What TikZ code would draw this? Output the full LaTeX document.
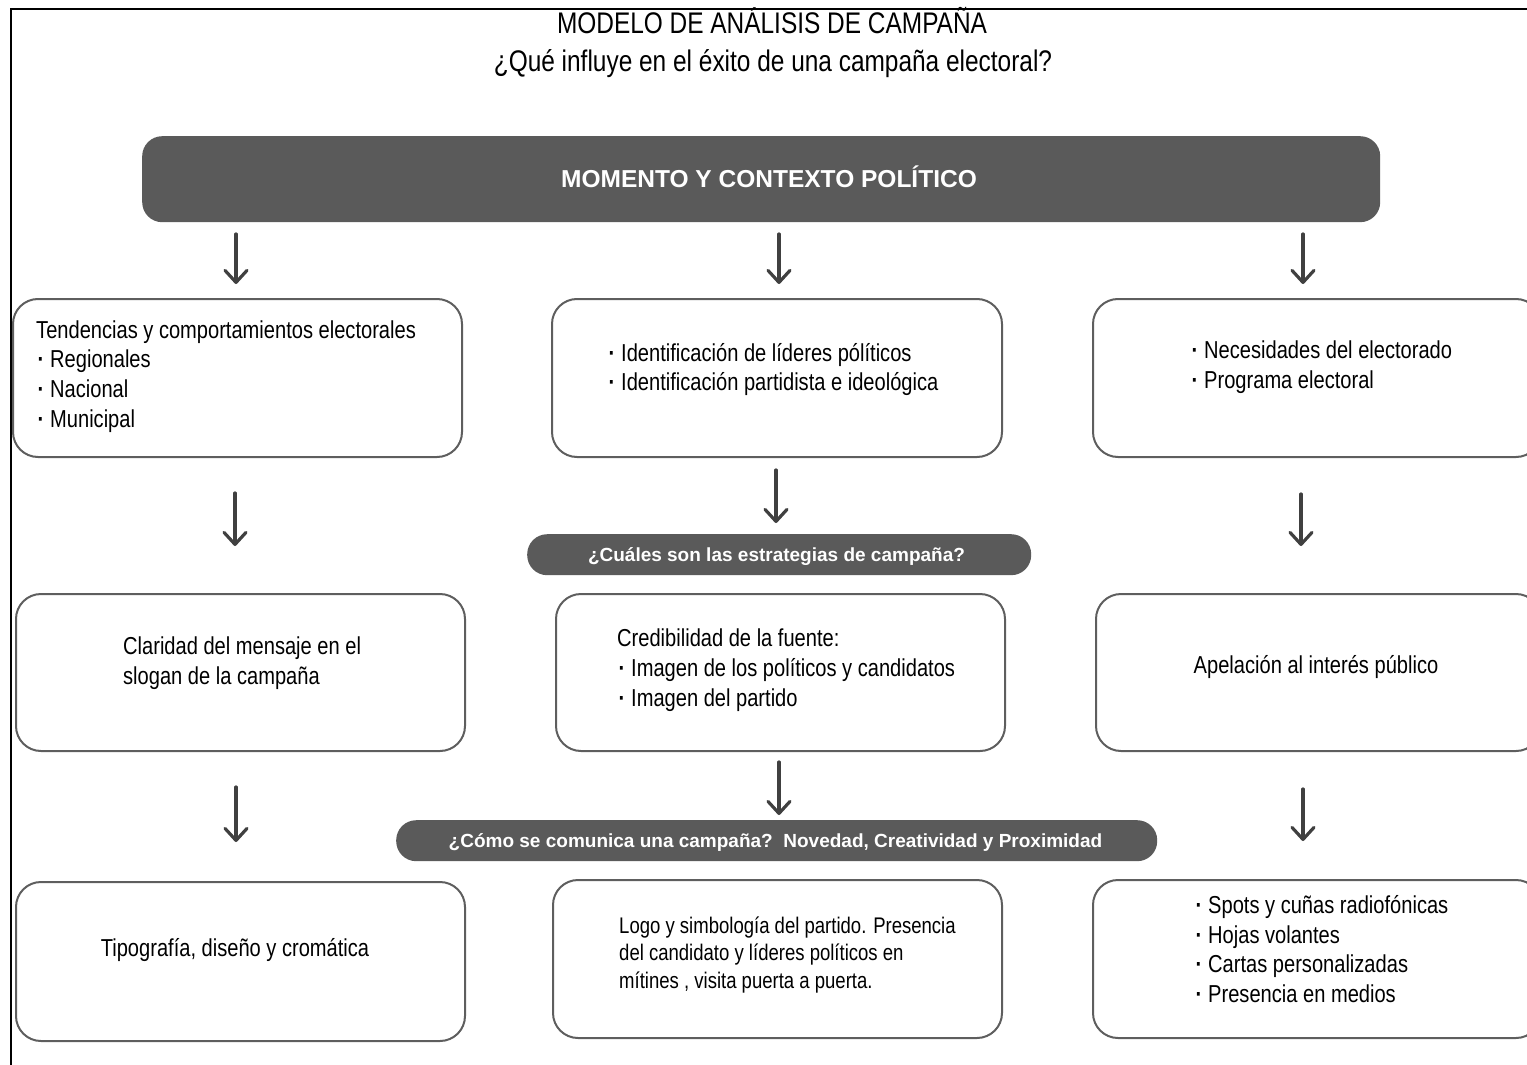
\documentclass[tikz,border=0pt]{standalone}
\usepackage{fontspec}
\setmainfont{Liberation Sans}
\newfontfamily\nar{Liberation Sans}[FakeStretch=0.82]
\usetikzlibrary{arrows.meta}
\definecolor{dark}{HTML}{5A5A5A}
\definecolor{arr}{HTML}{404040}
\definecolor{edge}{HTML}{5E5E5E}
\newcommand\bul{\makebox[14pt][l]{\hspace{1.5pt}\textbf{·}}}
\tikzset{
 box/.style={draw=edge, line width=2pt, rounded corners=25pt, anchor=north west, inner sep=0pt},
 pill/.style={fill=dark, rounded corners=20pt, anchor=north west, inner sep=0pt},
 txt/.style={inner sep=0pt, align=left, anchor=west, font=\nar\fontsize{24.5}{29.7}\selectfont},
 smalltxt/.style={txt, font=\nar\fontsize{22.6}{27.5}\selectfont},
 ctxt/.style={txt, align=center, anchor=center},
 btxt/.style={inner sep=0pt, anchor=base, text=white, font=\bfseries\fontsize{19}{22}\selectfont},
 flow/.style={draw=arr, line width=3.2pt, line cap=round, -{Straight Barb[length=12pt,width=22pt,line cap=round,line join=round]}},
}
\begin{document}
\begin{tikzpicture}[x=1pt,y=-1pt]
\useasboundingbox (0,0) rectangle (1527,1065);
\clip (0,0) rectangle (1527,1065);
% frame
\draw[line width=1.5pt] (1530,9) -- (11,9) -- (11,1070);
% title
\node[inner sep=0pt, anchor=base, font=\nar\fontsize{29.8}{36}\selectfont] (t1) at (772,34) {MODELO DE ANÁLISIS DE CAMPAÑA};
\node[inner sep=0pt, anchor=base, font=\nar\fontsize{29.8}{36}\selectfont] (t2) at (773,72) {¿Qué influye en el éxito de una campaña electoral?};
% main box
\node[pill, minimum width=1238pt, minimum height=86pt] (top) at (142,136) {};
\node[inner sep=0pt, anchor=base, text=white, font=\bfseries\fontsize{24.5}{28}\selectfont] (toptxt) at (769,187) {MOMENTO Y CONTEXTO POLÍTICO};
% row 1
\node[box, minimum width=449pt, minimum height=158pt] (r1a) at (12,298) {};
\node[box, minimum width=450pt, minimum height=158pt] (r1b) at (551,298) {};
\node[box, minimum width=448pt, minimum height=158pt] (r1c) at (1092,298) {};
\node[txt] (r1at) at (36,376.5) {Tendencias y comportamientos electorales\\\bul Regionales\\\bul Nacional\\\bul Municipal};
\node[txt] (r1bt) at (607,369.5) {\bul Identificación de líderes pólíticos\\\bul Identificación partidista e ideológica};
\node[txt] (r1ct) at (1190,367) {\bul Necesidades del electorado\\\bul Programa electoral};
% pill 1
\node[pill, minimum width=504pt, minimum height=41pt] (p1) at (527,534) {};
\node[btxt] (p1t) at (776.5,561) {¿Cuáles son las estrategias de campaña?};
% row 2
\node[box, minimum width=449pt, minimum height=157pt] (r2a) at (15,593) {};
\node[box, minimum width=449pt, minimum height=157pt] (r2b) at (555,593) {};
\node[box, minimum width=445pt, minimum height=157pt] (r2c) at (1095,593) {};
\node[txt] (r2at) at (123,663) {Claridad del mensaje en el\\slogan de la campaña};
\node[txt] (r2bt) at (617,670) {Credibilidad de la fuente:\\\bul Imagen de los políticos y candidatos\\\bul Imagen del partido};
\node[ctxt] (r2ct) at (1316,667) {Apelación al interés público};
% pill 2
\node[pill, minimum width=761pt, minimum height=41pt] (p2) at (396,820) {};
\node[btxt] (p2t) at (775.5,847) {¿Cómo se comunica una campaña?\ \ Novedad, Creatividad y Proximidad};
% row 3
\node[box, minimum width=449pt, minimum height=159pt] (r3a) at (15,881) {};
\node[box, minimum width=449pt, minimum height=158pt] (r3b) at (552,879) {};
\node[box, minimum width=448pt, minimum height=158pt] (r3c) at (1092,879) {};
\node[ctxt] (r3at) at (235,950) {Tipografía, diseño y cromática};
\node[smalltxt] (r3bt) at (619,955) {Logo y simbología del partido. Presencia\\del candidato y líderes políticos en\\mítines , visita puerta a puerta.};
\node[txt] (r3ct) at (1194,949) {\bul Spots y cuñas radiofónicas\\\bul Hojas volantes\\\bul Cartas personalizadas\\\bul Presencia en medios};
% arrow coordinates
\coordinate (a1s) at (236,234); \coordinate (a1e) at (236,284);
\coordinate (a2s) at (779,234); \coordinate (a2e) at (779,284);
\coordinate (a3s) at (1303,234); \coordinate (a3e) at (1303,284);
\coordinate (b1s) at (235,493); \coordinate (b1e) at (235,546);
\coordinate (b2s) at (776,470); \coordinate (b2e) at (776,523);
\coordinate (b3s) at (1301,494); \coordinate (b3e) at (1301,546);
\coordinate (c1s) at (236,787); \coordinate (c1e) at (236,842);
\coordinate (c2s) at (779,762); \coordinate (c2e) at (779,815);
\coordinate (c3s) at (1303,789); \coordinate (c3e) at (1303,841);
\foreach \a in {a1,a2,a3,b1,b2,b3,c1,c2,c3}
  \draw[flow] (\a s) -- (\a e);
\end{tikzpicture}
\end{document}
